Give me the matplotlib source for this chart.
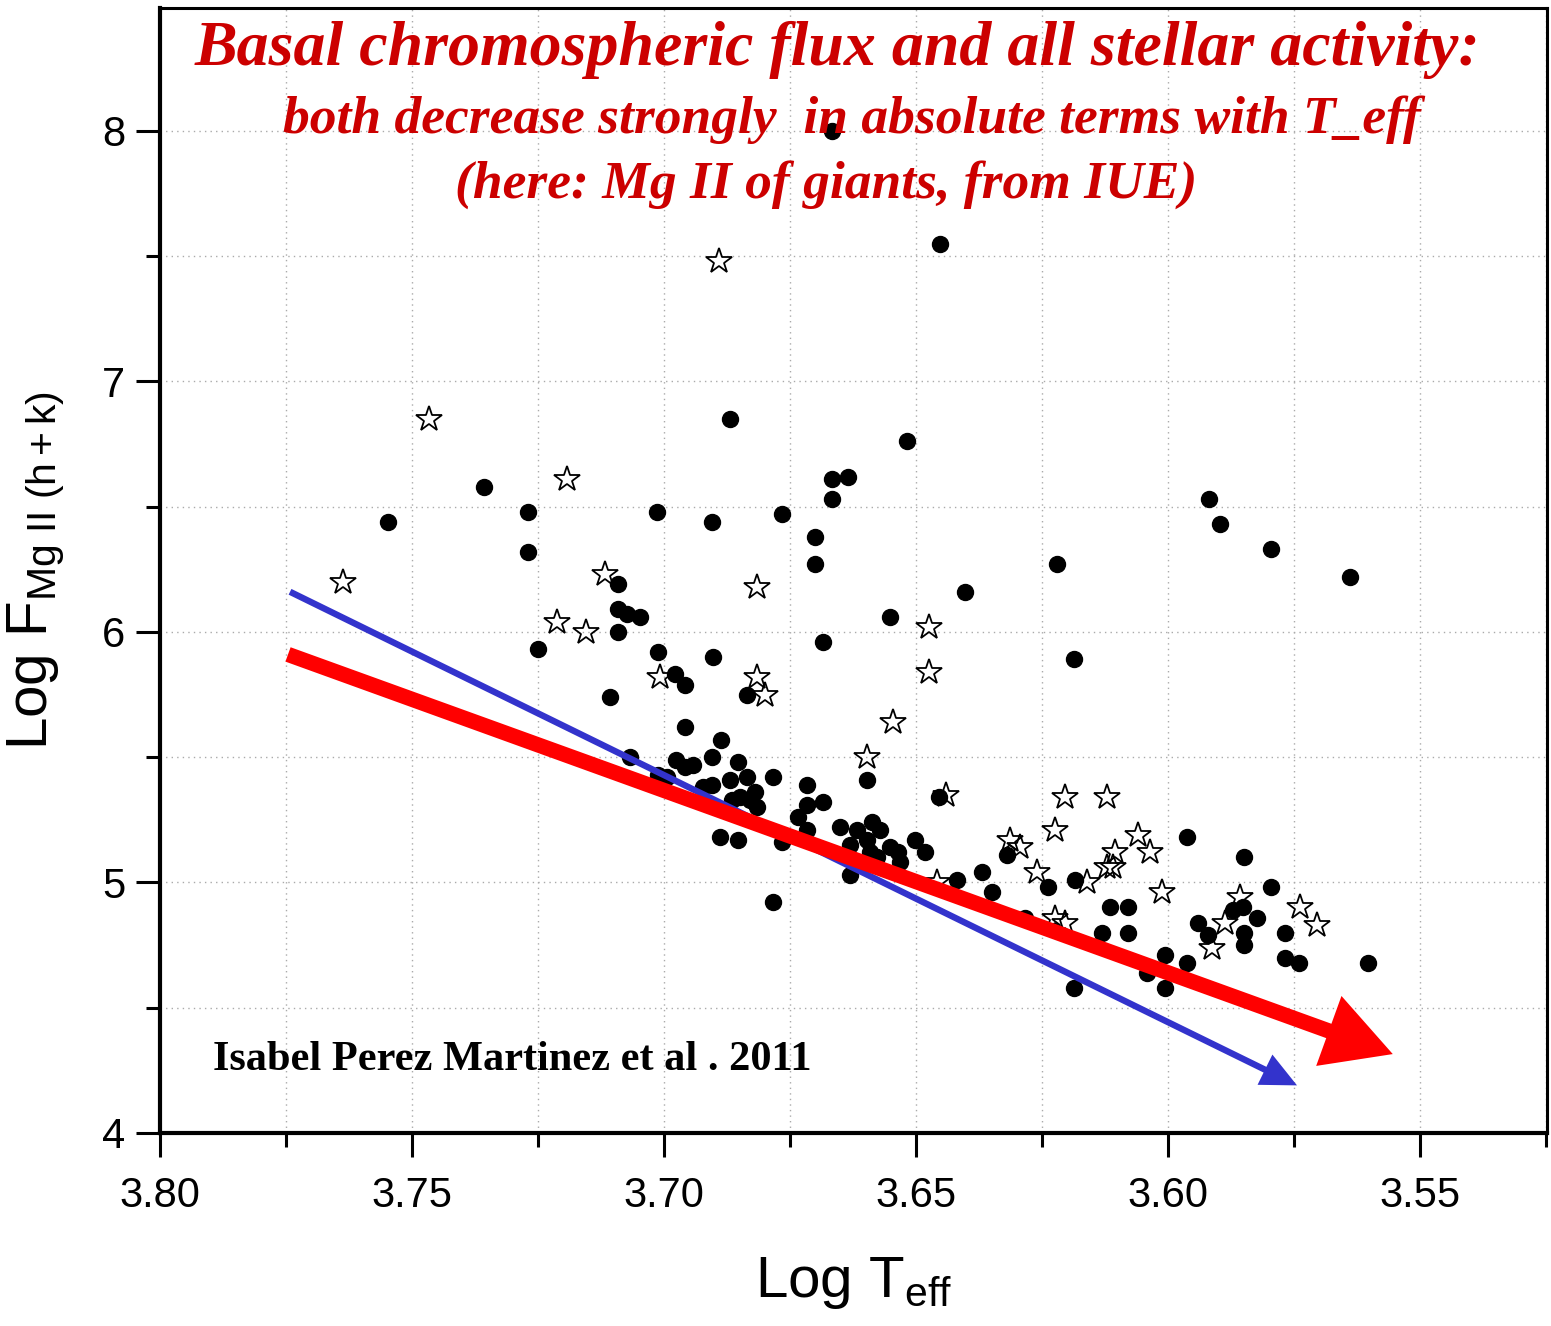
import numpy as np
import matplotlib
matplotlib.use("Agg")
import matplotlib.pyplot as plt
from matplotlib.ticker import MultipleLocator

plt.rcParams['font.family'] = ['Liberation Sans', 'DejaVu Sans']
plt.rcParams['mathtext.fontset'] = 'custom'
plt.rcParams['mathtext.rm'] = 'Liberation Sans'
plt.rcParams['mathtext.it'] = 'Liberation Sans'

# giants, filled symbols (log Teff, log F Mg II)
dot_logt = [3.7548, 3.7357, 3.7270, 3.7270, 3.7250, 3.7107, 3.7091, 3.7091, 3.7073, 3.7048,
            3.7091, 3.7014, 3.7012, 3.6978, 3.6958, 3.6958, 3.6905, 3.6903, 3.6869, 3.6887,
            3.6835, 3.6766, 3.6700, 3.6700, 3.6685, 3.6667, 3.6635, 3.6667, 3.6452, 3.6518,
            3.6552, 3.6403, 3.6220, 3.6187, 3.5919, 3.5897, 3.5796, 3.5639, 3.6597, 3.6976,
            3.6958, 3.6942, 3.6905, 3.6853, 3.6869, 3.6835, 3.6819, 3.6849, 3.6865, 3.6829,
            3.6815, 3.6784, 3.7012, 3.6889, 3.6853, 3.6766, 3.6784, 3.6716, 3.6716, 3.6685,
            3.6734, 3.6716, 3.6651, 3.6617, 3.6587, 3.6571, 3.6597, 3.6631, 3.6591, 3.6552,
            3.6536, 3.6532, 3.6631, 3.6577, 3.6502, 3.6482, 3.6419, 3.6369, 3.6349, 3.6319,
            3.6238, 3.6185, 3.6115, 3.6079, 3.6131, 3.6079, 3.6284, 3.6187, 3.6006, 3.6042,
            3.6006, 3.5962, 3.5849, 3.5796, 3.5871, 3.5851, 3.5823, 3.5940, 3.5921, 3.5849,
            3.5849, 3.5768, 3.5768, 3.5740, 3.5603, 3.5962, 3.7067, 3.6923, 3.6905, 3.6454,
            3.6667, 3.6994]
dot_logf = [6.44, 6.58, 6.48, 6.32, 5.93, 5.74, 6.19, 6.09, 6.07, 6.06,
            6.00, 6.48, 5.92, 5.83, 5.79, 5.62, 6.44, 5.90, 6.85, 5.57,
            5.75, 6.47, 6.38, 6.27, 5.96, 6.61, 6.62, 6.53, 7.55, 6.76,
            6.06, 6.16, 6.27, 5.89, 6.53, 6.43, 6.33, 6.22, 5.41, 5.49,
            5.46, 5.47, 5.50, 5.48, 5.41, 5.42, 5.36, 5.34, 5.33, 5.33,
            5.30, 5.42, 5.43, 5.18, 5.17, 5.16, 4.92, 5.39, 5.31, 5.32,
            5.26, 5.21, 5.22, 5.21, 5.24, 5.21, 5.17, 5.15, 5.12, 5.14,
            5.12, 5.08, 5.03, 5.10, 5.17, 5.12, 5.01, 5.04, 4.96, 5.11,
            4.98, 5.01, 4.90, 4.90, 4.80, 4.80, 4.86, 4.58, 4.71, 4.64,
            4.58, 5.18, 5.10, 4.98, 4.89, 4.90, 4.86, 4.84, 4.79, 4.80,
            4.75, 4.80, 4.70, 4.68, 4.68, 4.68, 5.50, 5.38, 5.39, 5.34,
            8.00, 5.42]

# giants, open stars
star_logt = [3.7637, 3.7466, 3.7192, 3.7212, 3.7155, 3.7117, 3.6891, 3.6815, 3.6815, 3.6800,
             3.7008, 3.6474, 3.6474, 3.6546, 3.6597, 3.6440, 3.6204, 3.6121, 3.6224, 3.6313,
             3.6294, 3.6260, 3.6060, 3.6036, 3.6105, 3.6109, 3.6161, 3.6012, 3.5857, 3.5887,
             3.5913, 3.5738, 3.5704, 3.6204, 3.6458, 3.6121, 3.6224]
star_logf = [6.20, 6.85, 6.61, 6.04, 6.00, 6.23, 7.48, 6.18, 5.82, 5.75,
             5.82, 6.02, 5.84, 5.64, 5.50, 5.35, 5.34, 5.34, 5.21, 5.17,
             5.14, 5.04, 5.19, 5.12, 5.12, 5.06, 5.00, 4.96, 4.94, 4.84,
             4.74, 4.90, 4.83, 4.84, 5.00, 5.06, 4.86]

# trend arrows (start, end)
blue_arrow = [(3.7742, 6.16), (3.5744, 4.19)]
red_arrow = [(3.7746, 5.91), (3.5554, 4.315)]

title_lines = ["Basal chromospheric flux and all stellar activity:",
               "both decrease strongly  in absolute terms with T_eff",
               "(here: Mg II of giants, from IUE)"]
credit = "Isabel Perez Martinez et al . 2011"

fig = plt.figure(figsize=(15.51, 13.26), dpi=100)
ax = fig.add_axes([160/1551, 1 - 1133/1326, (1547-160)/1551, (1133-8)/1326])

ax.plot(dot_logt, dot_logf, 'o', color='k', markersize=11.5, zorder=3)
ax.plot(star_logt, star_logf, '*', markerfacecolor='none', markeredgecolor='k',
        markersize=19, markeredgewidth=1.3, zorder=3)

ax.annotate('', xy=blue_arrow[1], xytext=blue_arrow[0],
            arrowprops=dict(arrowstyle='-|>,head_length=1.8,head_width=0.85',
                            mutation_scale=10, color='#3333cc', lw=4.6,
                            capstyle='butt', joinstyle='miter',
                            shrinkA=0, shrinkB=0), zorder=5)
ax.annotate('', xy=red_arrow[1], xytext=red_arrow[0],
            arrowprops=dict(arrowstyle='-|>,head_length=3.2,head_width=1.75',
                            mutation_scale=10, color='#ff0000', lw=11,
                            capstyle='butt', joinstyle='miter',
                            shrinkA=0, shrinkB=0), zorder=6)

ax.set_xlim(3.80, 3.5248)
ax.set_ylim(4.0, 8.49)
ax.xaxis.set_major_locator(MultipleLocator(0.05))
ax.xaxis.set_minor_locator(MultipleLocator(0.025))
ax.yaxis.set_major_locator(MultipleLocator(1))
ax.yaxis.set_minor_locator(MultipleLocator(0.5))
ax.xaxis.set_major_formatter(plt.FuncFormatter(lambda v, p: f"{v:.2f}"))
ax.yaxis.set_major_formatter(plt.FuncFormatter(lambda v, p: f"{v:.0f}"))

ax.grid(True, which='both', linestyle=(0, (1, 3)), color='#aaaaaa', linewidth=1.0)
ax.set_axisbelow(True)
ax.tick_params(which='major', direction='out', length=17, width=2.2, labelsize=30)
ax.tick_params(which='minor', direction='out', length=10, width=2.2)
ax.tick_params(axis='x', which='major', pad=14)
ax.tick_params(axis='y', which='major', pad=8)
for s in ['left', 'bottom']:
    ax.spines[s].set_linewidth(3)
for s in ['top', 'right']:
    ax.spines[s].set_linewidth(2.2)

ax.set_xlabel(r'Log T$_{\mathrm{eff}}$', fontsize=42, labelpad=28)
ax.set_ylabel(r'Log F$_{\mathrm{Mg\ II\ (h+k)}}$', fontsize=42, labelpad=26)

tfont = dict(family=['Liberation Serif', 'DejaVu Serif'], weight='bold', style='italic',
             color='#cc0000', ha='center', va='center')
fig.text(837/1551, 1 - 50/1326, title_lines[0], fontsize=46, **tfont)
fig.text(852/1551, 1 - 120/1326, title_lines[1], fontsize=38.5, **tfont)
fig.text(826/1551, 1 - 185/1326, title_lines[2], fontsize=38.5, **tfont)
fig.text(213/1551, 1 - 1060/1326, credit, fontsize=30.5, family=['Liberation Serif'],
         weight='bold', color='k', ha='left', va='center')

fig.savefig('out.png', dpi=100)
